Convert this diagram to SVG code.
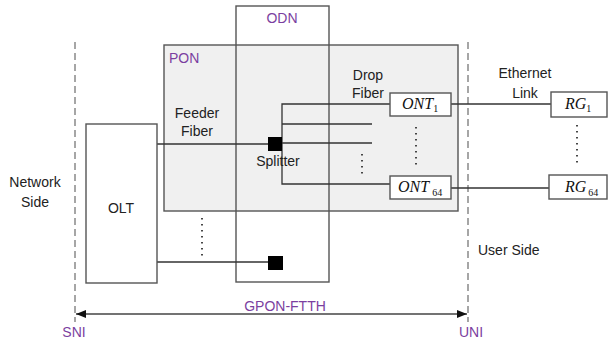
<svg xmlns="http://www.w3.org/2000/svg" width="610" height="341" viewBox="0 0 610 341">
<style>
.box{fill:none;stroke:#555;stroke-width:1.4}
.nb{fill:#fff;stroke:#555;stroke-width:1.4}
.ln{fill:none;stroke:#333;stroke-width:1.3}
.dash{fill:none;stroke:#777;stroke-width:1.3;stroke-dasharray:7,4}
.dots{fill:none;stroke:#333;stroke-width:1.8;stroke-dasharray:1.5,4.5}
.t{font-family:"Liberation Sans",Arial,sans-serif;font-size:14px;fill:#222}
.p{font-family:"Liberation Sans",Arial,sans-serif;font-size:14px;fill:#7b3fa0}
.it{font-family:"Liberation Serif","Times New Roman",serif;font-style:italic;font-size:16px;fill:#111}
.sub{font-family:"Liberation Serif","Times New Roman",serif;font-style:normal;font-size:10px;fill:#111}
</style>
<defs>
<marker id="ah" markerWidth="10" markerHeight="8" refX="10" refY="4" orient="auto-start-reverse" markerUnits="userSpaceOnUse">
<path d="M0,0 L10,4 L0,8 z" fill="#111"/>
</marker>
</defs>
<rect width="610" height="341" fill="#fff"/>
<g id="pon">
<rect x="164" y="45" width="294" height="166" fill="#f0f0f0" stroke="#555" stroke-width="1.4"/>
<text class="p" x="169" y="63">PON</text>
</g>
<g id="odn">
<rect class="box" x="236" y="6" width="93" height="276"/>
<text class="p" x="282" y="23" text-anchor="middle">ODN</text>
</g>
<g id="boundaries">
<line class="dash" x1="75" y1="42" x2="75" y2="322"/>
<line class="dash" x1="468" y1="42" x2="468" y2="322"/>
</g>
<g id="connectors">
<line class="ln" x1="157" y1="144" x2="275" y2="144"/>
<line class="ln" x1="157" y1="262" x2="275" y2="262"/>
<polyline class="ln" points="390,104 282,104 282,184 390,184"/>
<line class="ln" x1="282" y1="124" x2="372" y2="124"/>
<line class="ln" x1="282" y1="143" x2="372" y2="143"/>
<line class="ln" x1="451" y1="104" x2="551" y2="104"/>
<line class="ln" x1="451" y1="188" x2="549" y2="188"/>
<line class="dots" x1="362" y1="154" x2="362" y2="174"/>
<line class="dots" x1="416" y1="127" x2="416" y2="169"/>
<line class="dots" x1="577" y1="125" x2="577" y2="166"/>
<line class="dots" x1="202" y1="218" x2="202" y2="258"/>
<line fill="none" stroke="#444" stroke-width="1.3" x1="76" y1="314" x2="467" y2="314" marker-start="url(#ah)" marker-end="url(#ah)"/>
</g>
<g id="olt">
<rect class="nb" x="86" y="124" width="71" height="159"/>
<text class="t" x="121" y="213" text-anchor="middle" font-size="15">OLT</text>
</g>
<g id="splitter1">
<rect x="268" y="137" width="14" height="14" fill="#000"/>
<text class="t" x="278" y="166" text-anchor="middle">Splitter</text>
</g>
<g id="splitter2">
<rect x="268" y="256" width="15" height="14" fill="#000"/>
</g>
<g id="ont1">
<rect class="nb" x="390" y="93" width="61" height="23"/>
<text class="it" x="402" y="109">ONT<tspan class="sub" dy="3">1</tspan></text>
</g>
<g id="ont64">
<rect class="nb" x="390" y="176" width="61" height="23"/>
<text class="it" x="398" y="192">ONT<tspan class="sub" dx="3" dy="4">64</tspan></text>
</g>
<g id="rg1">
<rect class="nb" x="551" y="92" width="56" height="25"/>
<text class="it" x="565" y="109">RG<tspan class="sub" dy="3">1</tspan></text>
</g>
<g id="rg64">
<rect class="nb" x="549" y="175" width="58" height="24"/>
<text class="it" x="565" y="192">RG<tspan class="sub" dx="2" dy="4">64</tspan></text>
</g>
<g id="labels">
<text class="t" x="197" y="118" text-anchor="middle">Feeder</text>
<text class="t" x="197" y="136" text-anchor="middle">Fiber</text>
<text class="t" x="368" y="80" text-anchor="middle">Drop</text>
<text class="t" x="368" y="98" text-anchor="middle">Fiber</text>
<text class="t" x="525" y="78" text-anchor="middle">Ethernet</text>
<text class="t" x="525" y="98" text-anchor="middle">Link</text>
<text class="t" x="35" y="187" text-anchor="middle">Network</text>
<text class="t" x="35" y="207" text-anchor="middle">Side</text>
<text class="t" x="478" y="255">User Side</text>
<text class="p" x="285" y="311" text-anchor="middle">GPON-FTTH</text>
<text class="p" x="74" y="337" text-anchor="middle">SNI</text>
<text class="p" x="471" y="337" text-anchor="middle">UNI</text>
</g>
</svg>
